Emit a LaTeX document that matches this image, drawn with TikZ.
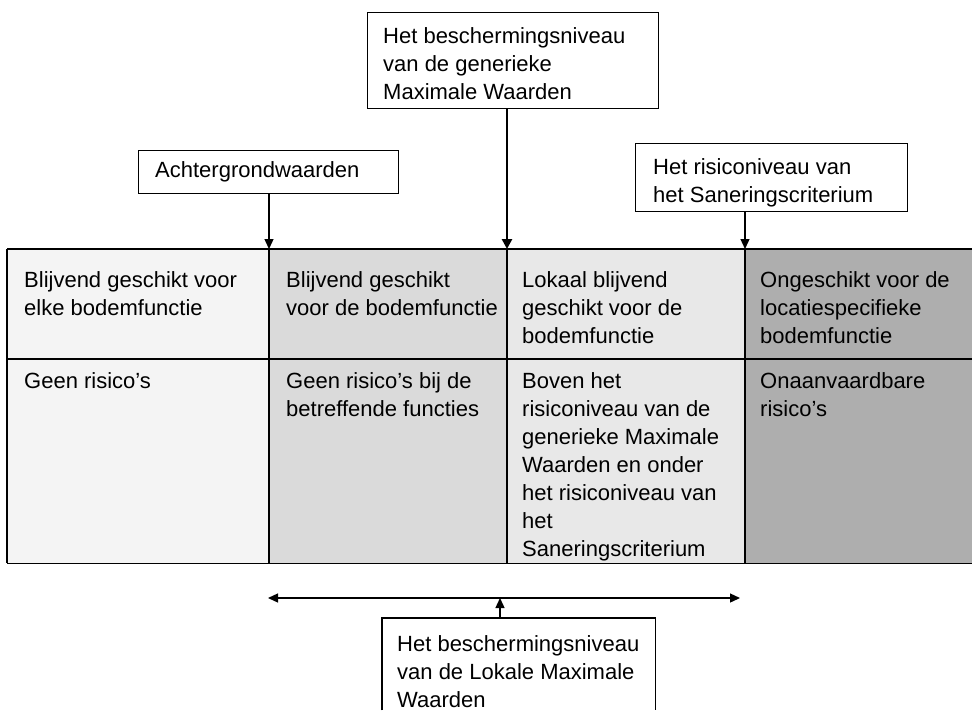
\documentclass[tikz,border=0pt]{standalone}
\usepackage{fontspec}
\setmainfont{Liberation Sans}
\usetikzlibrary{arrows.meta}
\definecolor{cola}{HTML}{F4F4F4}
\definecolor{colb}{HTML}{DADADA}
\definecolor{colc}{HTML}{E8E8E8}
\definecolor{cold}{HTML}{AEAEAE}
\begin{document}
\begin{tikzpicture}[x=1pt,y=-1pt,
  lbl/.style={anchor=north west, inner sep=0pt, align=left, font=\fontsize{22}{28}\selectfont},
  frame/.style={draw=black, line width=1.2pt, anchor=north west, inner sep=0pt},
  cellbox/.style={anchor=north west, inner sep=0pt, draw=none},
  grid/.style={line width=1.3pt},
  tip/.tip={Triangle[length=10pt,width=9pt]},
  arr/.style={line width=1.3pt, -tip},
  thickarr/.style={line width=2.6pt, -{Triangle[length=10pt,width=10pt]}},
]
\useasboundingbox (0,0) rectangle (972,710);

% table cells
\node[cellbox, fill=cola, minimum width=262pt, minimum height=110pt] (c11) at (7,249) {};
\node[cellbox, fill=colb, minimum width=238pt, minimum height=110pt] (c12) at (269,249) {};
\node[cellbox, fill=colc, minimum width=238pt, minimum height=110pt] (c13) at (507,249) {};
\node[cellbox, fill=cold, minimum width=227pt, minimum height=110pt] (c14) at (745,249) {};
\node[cellbox, fill=cola, minimum width=262pt, minimum height=204pt] (c21) at (7,359) {};
\node[cellbox, fill=colb, minimum width=238pt, minimum height=204pt] (c22) at (269,359) {};
\node[cellbox, fill=colc, minimum width=238pt, minimum height=204pt] (c23) at (507,359) {};
\node[cellbox, fill=cold, minimum width=227pt, minimum height=204pt] (c24) at (745,359) {};

% grid lines
\draw[grid] (c11.north west) -- (c14.north east);
\draw[grid] (c21.north west) -- (c24.north east);
\draw[grid] (c21.south west) -- (c24.south east);
\draw[grid] (c11.north west) -- (c21.south west);
\draw[grid] (c12.north west) -- (c22.south west);
\draw[grid] (c13.north west) -- (c23.south west);
\draw[grid] (c14.north west) -- (c24.south west);

% cell texts
\node[lbl] (t11) at (24,271) {Blijvend geschikt voor\\elke bodemfunctie};
\node[lbl] (t12) at (286,271) {Blijvend geschikt\\voor de bodemfunctie};
\node[lbl] (t13) at (522,271) {Lokaal blijvend\\geschikt voor de\\bodemfunctie};
\node[lbl] (t14) at (760,271) {Ongeschikt voor de\\locatiespecifieke\\bodemfunctie};
\node[lbl] (t21) at (24,372) {Geen risico's};
\node[lbl] (t22) at (286,372) {Geen risico's bij de\\betreffende functies};
\node[lbl] (t23) at (522,372) {Boven het\\risiconiveau van de\\generieke Maximale\\Waarden en onder\\het risiconiveau van\\het\\Saneringscriterium};
\node[lbl] (t24) at (760,372) {Onaanvaardbare\\risico's};

% top boxes
\node[frame, minimum width=291pt, minimum height=96pt] (topb) at (367,12) {};
\node[lbl] (topt) at (383,27) {Het beschermingsniveau\\van de generieke\\Maximale Waarden};
\node[frame, minimum width=260pt, minimum height=43pt] (achb) at (138,150) {};
\node[lbl] (acht) at (155,161) {Achtergrondwaarden};
\node[frame, minimum width=272pt, minimum height=68pt] (riskb) at (635,143) {};
\node[lbl] (riskt) at (653,158) {Het risiconiveau van\\het Saneringscriterium};

% arrows from top boxes
\draw[thickarr] (topb.south -| c13.north west) -- (c13.north west);
\draw[arr] (achb.south -| c12.north west) -- (c12.north west);
\draw[arr] (riskb.south -| c14.north west) -- (c14.north west);

% bottom
\coordinate (L) at (268,598);
\coordinate (R) at (740,598);
\coordinate (M) at (500,598);
\draw[line width=1.3pt, tip-tip] (L) -- (R);
\node[anchor=north west, inner sep=0pt, minimum width=273pt, minimum height=92pt] (botb) at (382,618) {};
\draw[line width=1.2pt] (botb.south west) -- (botb.north west) -- (botb.north east) -- (botb.south east);
\node[lbl] (bott) at (397,635) {Het beschermingsniveau\\van de Lokale Maximale\\Waarden};
\draw[arr] (botb.north -| M) -- (M);
\end{tikzpicture}
\end{document}
